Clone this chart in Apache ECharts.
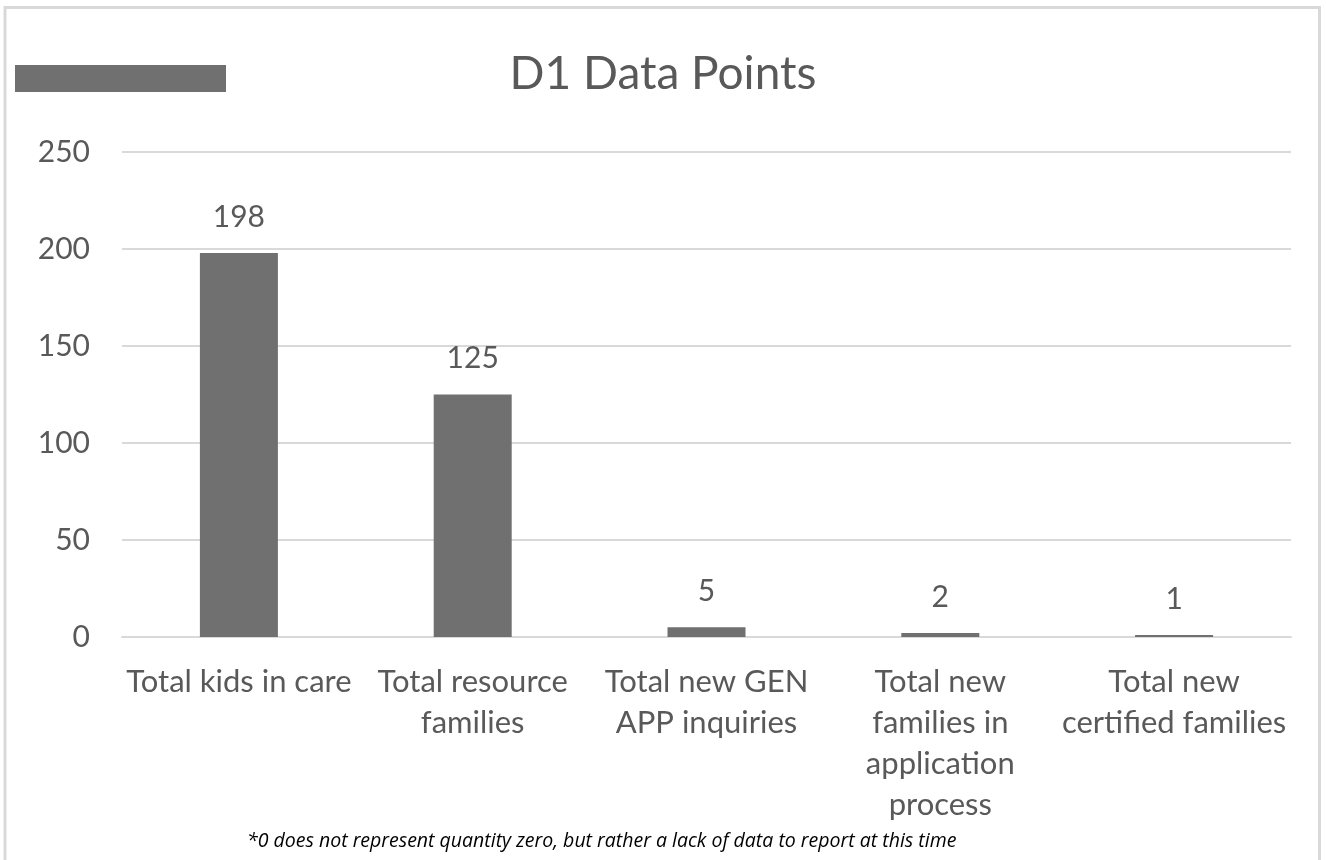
<!DOCTYPE html>
<html>
<head>
<meta charset="utf-8">
<script src="https://cdn.jsdelivr.net/npm/echarts@6/dist/echarts.min.js"></script>
<style>
    html, body { margin: 0; padding: 0; background: #fff; overflow: hidden; }
    #d1Chart { width: 1326px; height: 860px; }
</style>
</head>
<body>
<div id="d1Chart"></div>
<script type="text/javascript">
    // category labels, line breaks as in the source chart
    var categories = [
        'Total kids in care',
        'Total resource\nfamilies',
        'Total new GEN\nAPP inquiries',
        'Total new\nfamilies in\napplication\nprocess',
        'Total new\ncertified families'
    ];
    var counts = [198, 125, 5, 2, 1];
    var yTicks = [0, 50, 100, 150, 200, 250];
    var footNote = '*0 does not represent quantity zero, but rather a lack of data to report at this time';

    var fontName = 'Lato';
    var textGray = '#595959';

    var myChart = echarts.init(document.getElementById('d1Chart'));
    var option = {
        animation: false,
        color: ['#707070'],
        title: {
            text: 'D1 Data Points',
            left: 'center',
            top: 46,
            textStyle: {
                fontFamily: fontName,
                fontSize: 46,
                fontWeight: 'normal',
                color: textGray
            }
        },
        grid: {
            left: 122,
            right: 35,
            top: 152,
            bottom: 223,
            containLabel: false
        },
        xAxis: {
            type: 'category',
            data: categories,
            axisTick: { show: false },
            axisLine: { lineStyle: { color: '#d9d9d9', width: 2 } },
            axisLabel: {
                interval: 0,
                margin: 24,
                fontFamily: fontName,
                fontSize: 31,
                lineHeight: 41,
                color: textGray
            }
        },
        yAxis: {
            type: 'value',
            min: yTicks[0],
            max: yTicks[yTicks.length - 1],
            interval: 50,
            axisLine: { show: false },
            axisTick: { show: false },
            splitLine: { lineStyle: { color: '#d9d9d9', width: 2 } },
            axisLabel: {
                margin: 32,
                fontFamily: fontName,
                fontSize: 30,
                color: textGray
            }
        },
        series: [
            {
                name: 'D1',
                type: 'bar',
                data: counts,
                barWidth: 78,
                label: {
                    show: true,
                    position: 'top',
                    distance: 21,
                    fontFamily: fontName,
                    fontSize: 30,
                    color: textGray
                }
            }
        ],
        graphic: [
            {
                // outer chart frame (bottom edge is cut off in the source)
                type: 'rect',
                shape: { x: 5, y: 7.5, width: 1314.5, height: 900 },
                style: { fill: 'none', stroke: '#d9d9d9', lineWidth: 3 },
                silent: true
            },
            {
                // redaction block
                type: 'rect',
                shape: { x: 15, y: 65, width: 211, height: 27 },
                style: { fill: '#707070' },
                silent: true
            },
            {
                type: 'text',
                left: 247,
                top: 831,
                style: {
                    text: footNote,
                    fontStyle: 'italic',
                    fontSize: 19.5,
                    fontFamily: 'Open Sans',
                    fill: '#000'
                },
                silent: true
            }
        ]
    };
    myChart.setOption(option);
</script>
</body>
</html>
